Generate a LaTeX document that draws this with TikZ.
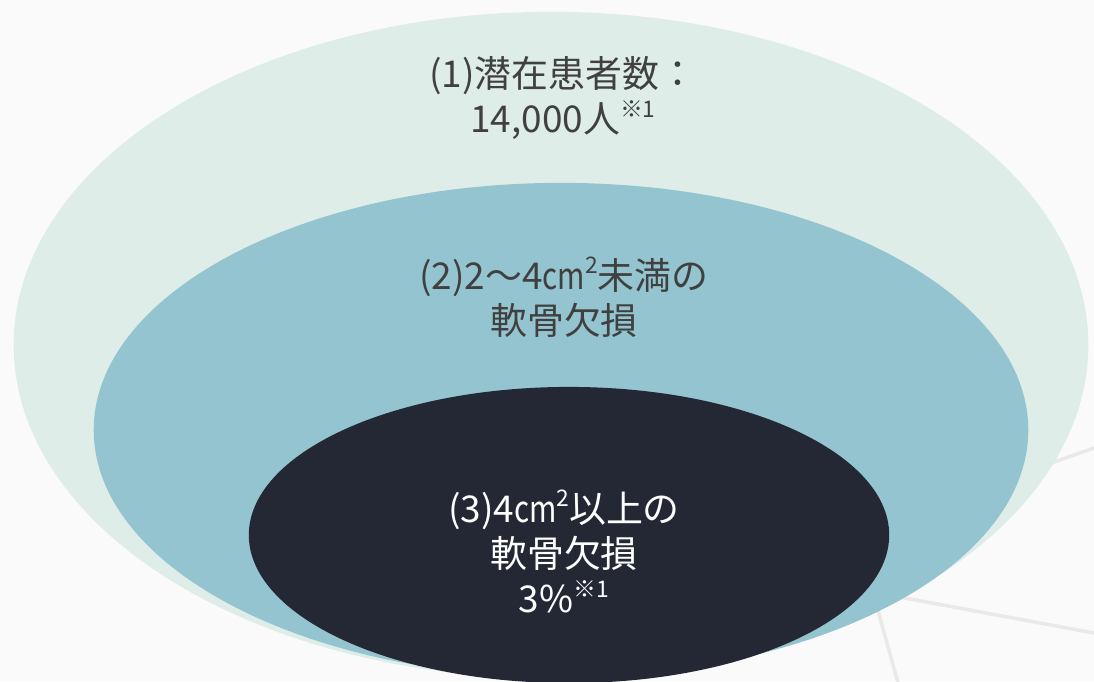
\documentclass[tikz,border=0pt]{standalone}
\usepackage{fontspec}
\usepackage{graphicx}
\usepackage{tikz}
\usetikzlibrary{shapes.geometric}
\newfontfamily\jp{Noto Sans CJK JP}
\definecolor{bgcol}{HTML}{FAFAFA}
\definecolor{outercol}{HTML}{DEEDE8}
\definecolor{middlecol}{HTML}{94C4D0}
\definecolor{innercol}{HTML}{232834}
\definecolor{txtcol}{HTML}{404040}
\definecolor{linecol}{HTML}{E9E9E9}
\newcommand\chu[1]{\raisebox{.75ex}{\fontsize{6.5}{6.5}\selectfont #1}}
\newcommand\sqcm{\scalebox{.8}[1]{cm}\raisebox{.8ex}{\fontsize{6.5}{6.5}\selectfont 2}}

\begin{document}
\begin{tikzpicture}[x=0.01cm,y=-0.01cm,
  ring/.style={ellipse,inner sep=0pt,outer sep=0pt},
  label/.style={align=center,font=\jp\fontsize{10.5}{12.8}\selectfont}]
\useasboundingbox (0,0) rectangle (1094,681);
\clip (0,0) rectangle (1094,681);
\fill[bgcol] (0,0) rectangle (1094,681);
% faint lines behind
\draw[linecol,line width=1pt] (700,560) -- (1094,633);
\draw[linecol,line width=1pt] (850,510) -- (900,690);
\draw[linecol,line width=1pt] (960,495) -- (1094,448);

\node[ring,fill=outercol,minimum width=10.74cm,minimum height=6.66cm] (outer) at (551,345) {};
\node[ring,fill=middlecol,minimum width=9.34cm,minimum height=4.94cm] (middle) at (561,430) {};
\node[ring,fill=innercol,minimum width=6.4cm,minimum height=2.96cm] (inner) at (569,535) {};

\node[label,text=txtcol] (t1) at (563,98) {(1)潜在患者数：\\ 14,000人\chu{※1}};
\node[label,text=txtcol] (t2) at (564,297) {(2)2～4\sqcm 未満の\\ 軟骨欠損};
\node[label,text=white] (t3) at (564,551) {(3)4\sqcm 以上の\\ 軟骨欠損\\ 3\%\chu{※1}};
\end{tikzpicture}
\end{document}
